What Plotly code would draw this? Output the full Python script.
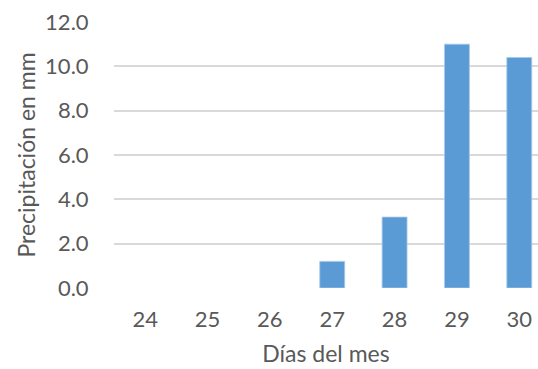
import plotly.graph_objects as go

days = ["24", "25", "26", "27", "28", "29", "30"]
rain_mm = [0.0, 0.0, 0.0, 1.2, 3.2, 11.0, 10.4]
y_ticks = [0, 2, 4, 6, 8, 10, 12]
y_tick_text = ["0.0", "2.0", "4.0", "6.0", "8.0", "10.0", "12.0"]

text_color = "#595959"
font_family = "Lato, 'Open Sans', sans-serif"

# thin light edge only on bars that actually have height
edge_widths = [0.8 if v > 0 else 0 for v in rain_mm]

fig = go.Figure(
    go.Bar(
        x=list(range(len(days))),
        y=rain_mm,
        width=0.4,
        marker=dict(color="#5B9BD5", line=dict(color="#A9C9EA", width=edge_widths)),
    )
)

fig.update_layout(
    width=538,
    height=369,
    margin=dict(l=114, r=0, t=22, b=81),
    paper_bgcolor="white",
    plot_bgcolor="white",
    showlegend=False,
    font=dict(family=font_family, color=text_color, size=22),
    xaxis=dict(
        range=[-0.5, 6.3],
        tickmode="array",
        tickvals=list(range(len(days))),
        ticktext=days,
        showgrid=False,
        zeroline=False,
        ticks="outside",
        ticklen=12,
        tickcolor="rgba(0,0,0,0)",
        tickfont=dict(size=22, color=text_color),
        title=dict(text="Días del mes", font=dict(size=23, color=text_color), standoff=14),
    ),
    yaxis=dict(
        range=[0, 12],
        tickmode="array",
        tickvals=y_ticks,
        ticktext=y_tick_text,
        showgrid=True,
        gridcolor="#D9D9D9",
        gridwidth=1.6,
        zeroline=False,
        ticks="outside",
        ticklen=20,
        tickcolor="rgba(0,0,0,0)",
        tickfont=dict(size=22, color=text_color),
        title=dict(text="Precipitación en mm", font=dict(size=23, color=text_color), standoff=3),
    ),
)

fig.write_html("out.html")
